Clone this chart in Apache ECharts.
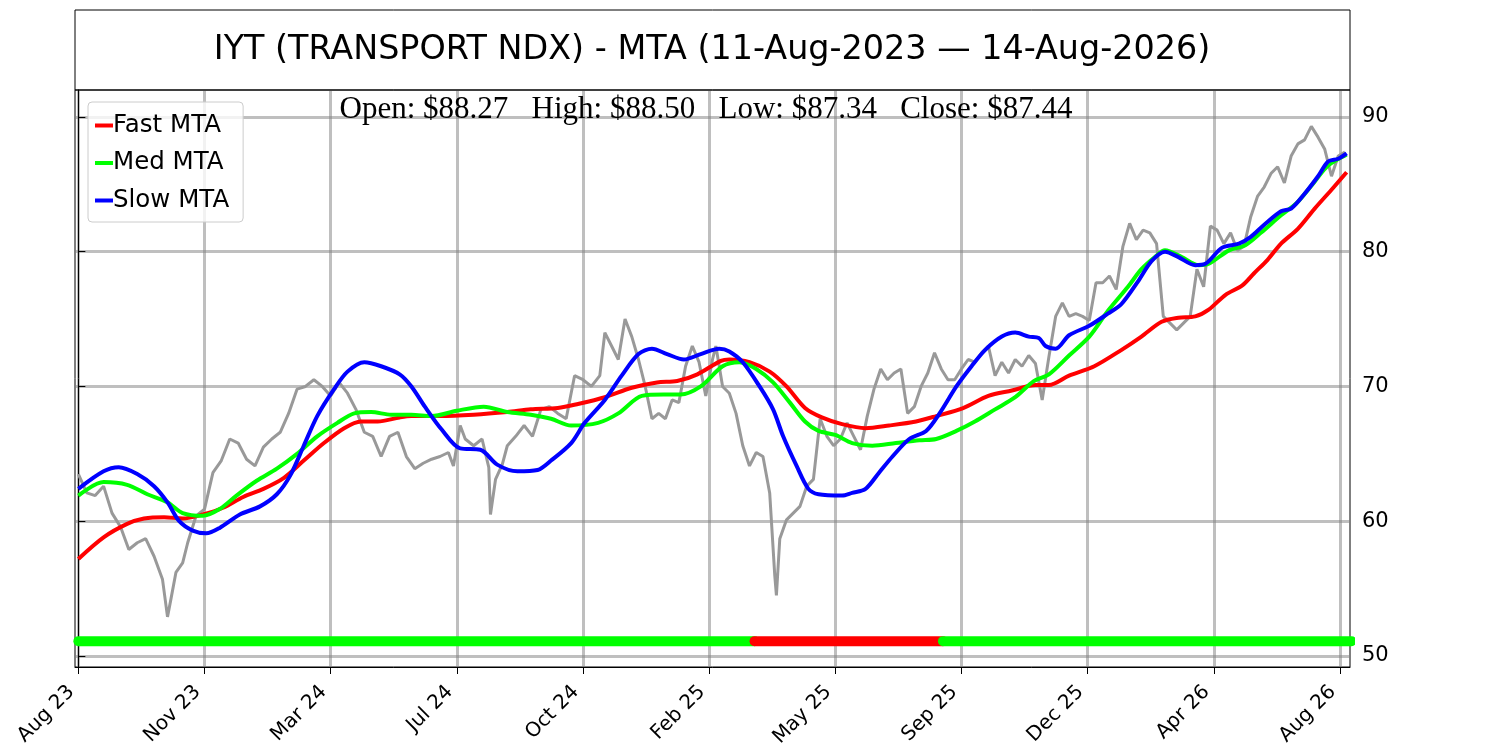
<!DOCTYPE html>
<html>
<head>
    <meta charset="utf-8"/>
    <title>IYT (TRANSPORT NDX) - MTA</title>
    <script src="https://cdn.jsdelivr.net/npm/echarts/dist/echarts.min.js"></script>
    <style>
        html, body {
            margin: 0;
            padding: 0;
            background: #ffffff;
        }
        #chart {
            width: 1500px;
            height: 750px;
        }
    </style>
</head>
<body>
<div id="chart"></div>
<script type="text/javascript">
    // x axis: trading-day index, a label every 75 bars
    let tickIdx = [0, 75, 150, 225, 300, 375, 450, 525, 600, 675, 750];
    let tickLabels = ['Aug 23', 'Nov 23', 'Mar 24', 'Jul 24', 'Oct 24', 'Feb 25',
        'May 25', 'Sep 25', 'Dec 25', 'Apr 26', 'Aug 26'];
    let yTicks = [50, 60, 70, 80, 90];

    // price (bar index -> price)
    let priceIdx = [0, 5, 10, 15, 20, 25, 30, 35, 40, 45, 50, 53, 55, 58, 62, 65, 70, 75, 80, 85,
        90, 95, 100, 105, 110, 115, 120, 125, 130, 135, 140, 145, 150, 155, 160, 165, 170, 175, 180, 185,
        190, 195, 200, 205, 210, 215, 220, 223, 227, 230, 235, 240, 244, 245, 248, 252, 255, 260, 265, 270,
        275, 280, 285, 290, 295, 300, 305, 310, 313, 317, 321, 325, 329, 333, 337, 341, 345, 349, 353, 357,
        361, 365, 369, 373, 377, 379, 383, 387, 391, 395, 399, 403, 407, 411, 414, 415, 417, 421, 425, 429,
        433, 437, 441, 445, 449, 453, 457, 461, 465, 469, 473, 477, 481, 485, 489, 493, 497, 501, 505, 509,
        513, 517, 521, 525, 529, 533, 537, 541, 545, 549, 553, 557, 561, 565, 569, 573, 577, 581, 585, 589,
        593, 597, 601, 605, 609, 613, 617, 621, 625, 629, 633, 637, 641, 645, 649, 653, 657, 661, 665, 669,
        673, 677, 681, 685, 689, 693, 697, 701, 705, 709, 713, 717, 721, 725, 729, 733, 737, 741, 745, 749, 753];
    let priceVal = [63.5, 62.1, 61.9, 62.6, 60.6, 59.6, 57.9, 58.4, 58.7, 57.4, 55.7, 52.9, 54.2, 56.2, 56.9, 58.4, 60.4, 60.9, 63.6, 64.5,
        66.1, 65.8, 64.6, 64.1, 65.5, 66.1, 66.6, 68.0, 69.8, 70.0, 70.5, 70.0, 69.3, 70.3, 69.5, 68.3, 66.6, 66.3, 64.8, 66.3,
        66.6, 64.8, 63.9, 64.3, 64.6, 64.8, 65.1, 64.1, 67.1, 66.1, 65.6, 66.1, 64.0, 60.5, 63.1, 64.2, 65.6, 66.3, 67.1, 66.3,
        68.3, 68.5, 68.0, 67.6, 70.8, 70.5, 70.0, 70.8, 74.0, 73.0, 72.0, 75.0, 73.7, 72.0, 70.0, 67.6, 68.0, 67.6, 69.0, 68.8,
        71.5, 73.0, 71.8, 69.3, 72.0, 73.0, 70.0, 69.5, 68.0, 65.6, 64.1, 65.1, 64.8, 62.1, 56.0, 54.5, 58.7, 60.1, 60.6, 61.1,
        62.6, 63.1, 67.6, 66.3, 65.6, 66.1, 67.3, 66.3, 65.3, 67.8, 69.8, 71.3, 70.5, 71.0, 71.3, 68.0, 68.5, 70.0, 71.0, 72.5,
        71.3, 70.5, 70.5, 71.3, 72.0, 71.8, 72.5, 73.0, 70.8, 71.8, 71.0, 72.0, 71.5, 72.3, 71.7, 69.0, 72.2, 75.2, 76.2, 75.2,
        75.4, 75.2, 74.9, 77.7, 77.7, 78.2, 77.2, 80.4, 82.1, 80.9, 81.6, 81.4, 80.6, 75.2, 74.7, 74.2, 74.7, 75.2, 78.7, 77.4,
        81.9, 81.6, 80.6, 81.4, 80.1, 80.4, 82.6, 84.1, 84.8, 85.8, 86.3, 85.1, 87.1, 88.0, 88.3, 89.3, 88.5, 87.6, 85.6, 87.1, 87.4];

    // fast MTA (red)
    let fastIdx = [0, 15, 29, 39, 51, 62, 74, 86, 98, 110, 122, 134, 146, 158, 168, 178, 191, 198, 215, 235,
        255, 269, 285, 297, 313, 329, 344, 356, 368, 382, 387, 399, 411, 421, 432, 442, 454, 468, 482, 498,
        510, 526, 541, 555, 569, 577, 589, 604, 620, 632, 644, 654, 664, 672, 682, 692, 699, 707, 715, 725,
        735, 745, 754];
    let fastVal = [57.2, 58.8, 59.8, 60.2, 60.3, 60.2, 60.5, 61.0, 61.8, 62.4, 63.2, 64.5, 65.8, 66.9, 67.4, 67.4, 67.7, 67.8, 67.8, 67.9,
        68.1, 68.3, 68.4, 68.7, 69.2, 69.9, 70.3, 70.4, 70.9, 71.9, 72.0, 71.8, 71.1, 70.0, 68.4, 67.7, 67.2, 66.9, 67.1, 67.4,
        67.8, 68.4, 69.3, 69.7, 70.1, 70.1, 70.8, 71.5, 72.7, 73.7, 74.8, 75.1, 75.2, 75.7, 76.8, 77.5, 78.4, 79.4, 80.6, 81.7,
        83.2, 84.6, 85.9];

    // medium MTA (green)
    let medIdx = [0, 15, 29, 41, 53, 62, 74, 84, 94, 106, 118, 130, 142, 154, 164, 174, 186, 198, 210, 225,
        241, 255, 269, 281, 293, 309, 321, 335, 348, 358, 370, 383, 393, 403, 413, 423, 432, 440, 450, 460,
        472, 486, 500, 510, 522, 533, 545, 557, 568, 577, 589, 601, 612, 624, 632, 640, 646, 656, 666, 672,
        684, 694, 703, 715, 725, 735, 743, 754];
    let medVal = [61.9, 62.9, 62.7, 62.0, 61.4, 60.6, 60.4, 60.9, 61.9, 63.0, 63.9, 65.0, 66.3, 67.3, 68.0, 68.1, 67.9, 67.9, 67.8, 68.2,
        68.5, 68.1, 67.9, 67.6, 67.1, 67.3, 68.0, 69.3, 69.4, 69.4, 70.0, 71.5, 71.8, 71.3, 70.3, 68.8, 67.4, 66.7, 66.4, 65.8,
        65.6, 65.8, 66.0, 66.1, 66.7, 67.4, 68.3, 69.2, 70.4, 70.9, 72.3, 73.7, 75.6, 77.4, 78.7, 79.6, 80.1, 79.6, 79.0, 79.1,
        80.1, 80.5, 81.4, 82.7, 83.7, 85.2, 86.4, 87.2];

    // slow MTA (blue)
    let slowIdx = [0, 15, 24, 35, 45, 53, 60, 68, 76, 84, 96, 108, 118, 126, 134, 142, 152, 160, 170, 180,
        191, 198, 206, 216, 227, 239, 249, 261, 273, 281, 293, 301, 313, 323, 333, 341, 350, 360, 370, 381,
        387, 395, 405, 413, 419, 427, 434, 440, 454, 460, 468, 476, 484, 494, 504, 512, 522, 531, 539, 549,
        557, 565, 571, 575, 581, 589, 601, 612, 620, 630, 638, 646, 654, 664, 670, 680, 690, 697, 705, 715,
        721, 729, 737, 743, 749, 754];
    let slowVal = [62.4, 63.7, 64.0, 63.5, 62.6, 61.4, 60.0, 59.3, 59.1, 59.5, 60.5, 61.1, 62.0, 63.4, 65.6, 67.8, 69.8, 71.1, 71.8, 71.5,
        70.9, 70.0, 68.5, 66.8, 65.4, 65.3, 64.2, 63.7, 63.8, 64.5, 65.8, 67.3, 69.0, 70.8, 72.4, 72.8, 72.4, 72.0, 72.4, 72.8,
        72.6, 71.8, 70.0, 68.3, 66.3, 64.1, 62.4, 62.0, 61.9, 62.1, 62.4, 63.6, 64.8, 66.1, 66.7, 68.0, 70.0, 71.5, 72.7, 73.7,
        74.0, 73.7, 73.6, 73.0, 72.8, 73.8, 74.5, 75.4, 76.1, 77.8, 79.3, 80.0, 79.6, 79.0, 79.1, 80.3, 80.6, 81.1, 82.0, 83.0,
        83.2, 84.3, 85.6, 86.7, 86.9, 87.3];

    // trend state strip at the bottom
    let statusIdx = [0, 402, 514, 757];
    let statusColors = ['#00ff00', '#ff0000', '#00ff00'];
    let statusLevel = 51.1;

    let ohlcText = 'Open: $88.27   High: $88.50   Low: $87.34   Close: $87.44';
    let titleText = 'IYT (TRANSPORT NDX) - MTA (11-Aug-2023 \u2014 14-Aug-2026)';

    let zip = function (xs, ys) {
        return xs.map(function (x, k) { return [x, ys[k]]; });
    };

    let gridColor = 'rgba(128,128,128,0.5)';
    let font = 'DejaVu Sans';

    let series = [
        {
            name: 'Price',
            type: 'line',
            data: zip(priceIdx, priceVal),
            showSymbol: false,
            lineStyle: {color: '#999999', width: 3},
            z: 2
        }
    ];
    for (let k = 0; k < statusColors.length; k++) {
        series.push({
            name: 'status' + k,
            type: 'line',
            data: [[statusIdx[k], statusLevel], [statusIdx[k + 1], statusLevel]],
            showSymbol: false,
            lineStyle: {color: statusColors[k], width: 10, cap: 'round'},
            z: 3
        });
    }
    series.push({
        name: 'Fast MTA', type: 'line', data: zip(fastIdx, fastVal), smooth: 0.3, showSymbol: false,
        itemStyle: {color: '#ff0000'}, lineStyle: {color: '#ff0000', width: 4}, z: 4
    });
    series.push({
        name: 'Med MTA', type: 'line', data: zip(medIdx, medVal), smooth: 0.3, showSymbol: false,
        itemStyle: {color: '#00ff00'}, lineStyle: {color: '#00ff00', width: 4}, z: 5
    });
    series.push({
        name: 'Slow MTA', type: 'line', data: zip(slowIdx, slowVal), smooth: 0.3, showSymbol: false,
        itemStyle: {color: '#0000ff'}, lineStyle: {color: '#0000ff', width: 4}, z: 6
    });

    let chart = echarts.init(document.getElementById('chart'), null, {renderer: 'canvas'});
    chart.setOption({
        backgroundColor: '#ffffff',
        animation: false,
        textStyle: {fontFamily: font},
        graphic: [
            {
                type: 'rect',
                shape: {x: 75, y: 10, width: 1275, height: 80},
                style: {fill: 'none', stroke: '#000000', lineWidth: 1},
                z: 10
            },
            {
                type: 'text',
                x: 712,
                y: 50,
                style: {
                    text: titleText, fill: '#000000', font: '33.4px "DejaVu Sans"',
                    textAlign: 'center', textVerticalAlign: 'middle'
                },
                z: 10
            },
            {
                type: 'text',
                x: 706,
                y: 110,
                style: {
                    text: ohlcText, fill: '#000000', font: '31px "Liberation Serif"',
                    textAlign: 'center', textVerticalAlign: 'middle'
                },
                z: 10
            }
        ],
        legend: {
            data: ['Fast MTA', 'Med MTA', 'Slow MTA'],
            orient: 'vertical',
            left: 88,
            top: 102,
            icon: 'rect',
            itemWidth: 18,
            itemHeight: 4,
            itemGap: 12.5,
            padding: [11, 14, 9, 7],
            backgroundColor: 'rgba(255,255,255,0.8)',
            borderColor: '#cccccc',
            borderWidth: 1,
            borderRadius: 4,
            textStyle: {fontSize: 24.5, color: '#000000', fontFamily: font, padding: [0, 0, 0, -5]}
        },
        grid: {
            left: 75,
            right: 150,
            top: 90,
            bottom: 83,
            show: true,
            borderColor: '#000000',
            borderWidth: 1,
            backgroundColor: 'transparent'
        },
        xAxis: {
            type: 'value',
            min: -2,
            max: 756,
            axisLine: {show: true, lineStyle: {color: '#000000', width: 1}},
            axisTick: {show: true, customValues: tickIdx, length: 7, lineStyle: {color: '#000000', width: 1}},
            axisLabel: {
                customValues: tickIdx,
                rotate: 45,
                fontSize: 20,
                color: '#000000',
                fontFamily: font,
                margin: 29,
                verticalAlign: 'bottom',
                formatter: function (v) {
                    let k = tickIdx.indexOf(v);
                    return k >= 0 ? tickLabels[k] : '';
                }
            },
            splitLine: {show: true, lineStyle: {color: gridColor, width: 3}}
        },
        yAxis: {
            type: 'value',
            position: 'right',
            min: 49.18,
            max: 92.0,
            axisLine: {show: true, lineStyle: {color: '#000000', width: 1}},
            axisTick: {show: true, customValues: yTicks, length: 7, lineStyle: {color: '#000000', width: 1}},
            axisLabel: {customValues: yTicks, fontSize: 21, color: '#000000', fontFamily: font, margin: 12},
            splitLine: {show: true, lineStyle: {color: gridColor, width: 3}}
        },
        series: series
    });
</script>
</body>
</html>
